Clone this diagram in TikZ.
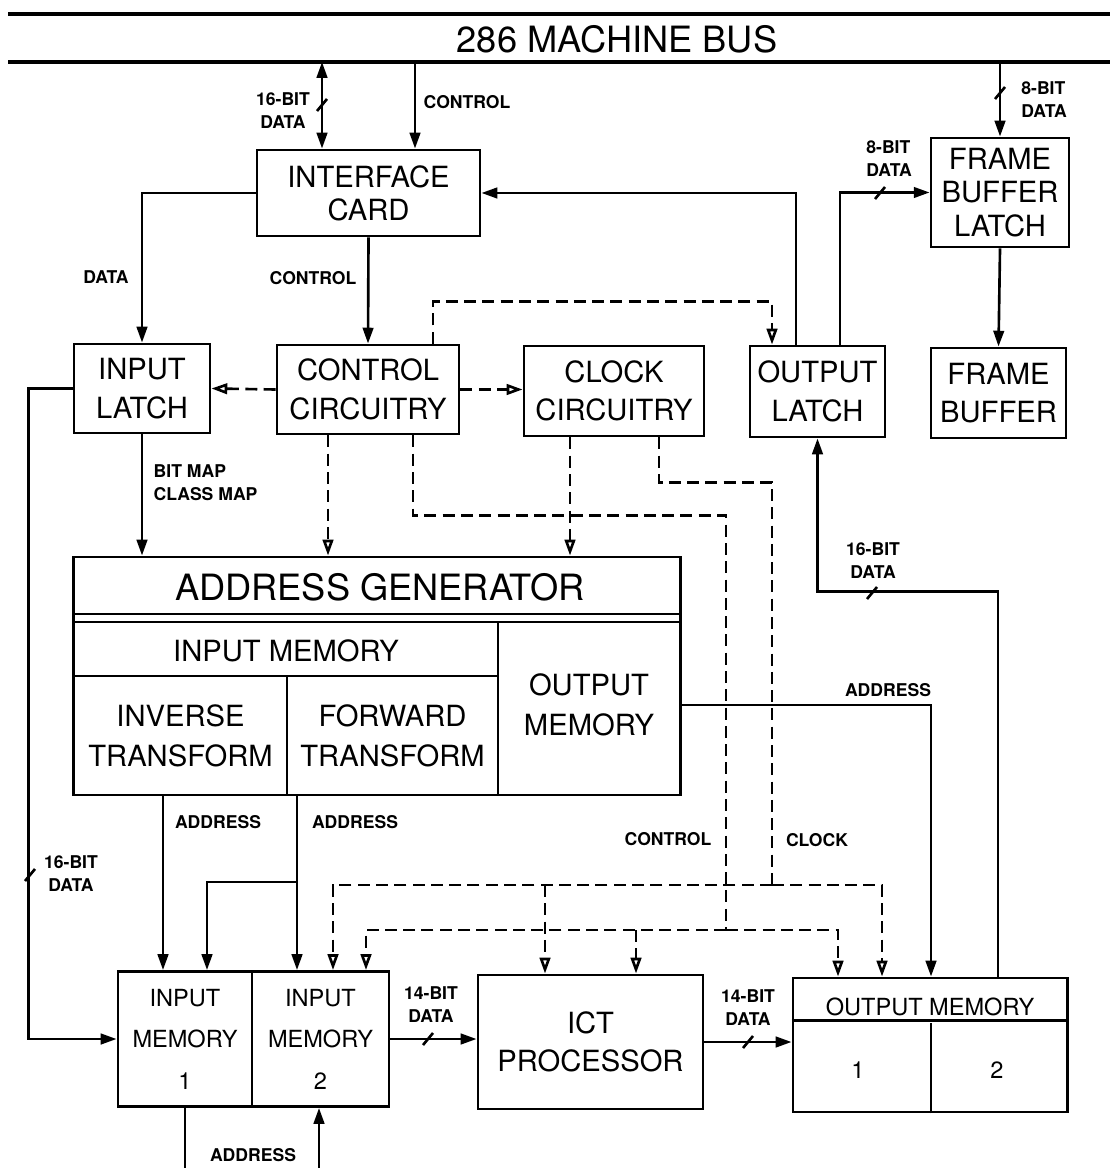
\documentclass[tikz,border=0pt]{standalone}
\usepackage{fontspec}
\setmainfont{TeX Gyre Heros}
\usetikzlibrary{arrows.meta,positioning,calc}
\newcommand{\fbig}{\fontsize{8.3}{11}\selectfont}
\newcommand{\fhuge}{\fontsize{10.3}{12}\selectfont}
\newcommand{\fmem}{\fontsize{6.7}{11.8}\selectfont}
\newcommand{\flab}{\fontsize{5}{6.5}\selectfont\bfseries}
\newcommand{\busmark}[1]{\draw[wire] ($(#1)+(-5,6)$) -- ($(#1)+(5,-6)$);}
\tikzset{
  wire/.style={line width=0.75pt},
  dwire/.style={wire, dash pattern=on 3.4pt off 1.8pt},
  sig/.style={wire, -{Triangle[length=4.5pt,width=3pt]}},
  sigb/.style={wire, {Triangle[length=4.5pt,width=3pt]}-{Triangle[length=4.5pt,width=3pt]}},
  ctl/.style={dwire, -{Triangle[open,length=4.5pt,width=3pt]}},
  blk/.style={draw, line width=0.8pt, inner sep=0pt, align=center, font=\fbig},
  lab/.style={inner sep=0pt, align=center, font=\flab},
}
\begin{document}
\begin{tikzpicture}[x=0.01cm,y=-0.01cm]
\useasboundingbox (0,0) rectangle (1110,1168);

% machine bus
\coordinate (bt0) at (8,14); \coordinate (bt1) at (1110,14);
\coordinate (bb0) at (8,62); \coordinate (bb1) at (1110,62);
\draw[line width=1pt] (bt0) -- (bt1);
\draw[line width=1pt] (bb0) -- (bb1);
\node[font=\fhuge] (bus) at (617,39) {286 MACHINE BUS};

% blocks
\node[blk, minimum width=2.23cm, minimum height=0.86cm, font=\fontsize{8.3}{9.4}\selectfont] (ic) at (368.5,193) {INTERFACE\\CARD};
\node[blk, minimum width=1.36cm, minimum height=0.89cm] (il) at (142,388.5) {INPUT\\LATCH};
\node[blk, minimum width=1.82cm, minimum height=0.89cm] (cc) at (368,389.5) {CONTROL\\CIRCUITRY};
\node[blk, minimum width=1.80cm, minimum height=0.90cm] (ck) at (614,391) {CLOCK\\CIRCUITRY};
\node[blk, minimum width=1.35cm, minimum height=0.91cm] (ol) at (817.5,391.5) {OUTPUT\\LATCH};
\node[blk, minimum width=1.38cm, minimum height=1.09cm, font=\fontsize{8.3}{9.5}\selectfont] (fbl) at (1000,192.5) {FRAME\\BUFFER\\LATCH};
\node[blk, minimum width=1.35cm, minimum height=0.90cm] (fb) at (998.5,393) {FRAME\\BUFFER};

% address generator
\node[blk, minimum width=6.06cm, minimum height=2.38cm] (ag) at (377,676) {};
\draw[line width=0.8pt] (74,614) -- (680,614) (74,622) -- (680,622)
  (74,676) -- (498,676) (498,622) -- (498,795) (287,676) -- (287,795);
\node[font=\fhuge] (agt) at (380,587) {ADDRESS GENERATOR};
\node[font=\fbig] (agim) at (286,651) {INPUT MEMORY};
\node[blk, draw=none, minimum width=2.13cm, minimum height=1.19cm, font=\fontsize{8.3}{11.4}\selectfont] (agiv) at (180.5,735.5) {INVERSE\\TRANSFORM};
\node[blk, draw=none, minimum width=2.11cm, minimum height=1.19cm, font=\fontsize{8.3}{11.4}\selectfont] (agfw) at (392.5,735.5) {FORWARD\\TRANSFORM};
\node[blk, draw=none, minimum width=1.82cm, minimum height=1.66cm, font=\fontsize{8.3}{11.4}\selectfont] (agom) at (589,705) {OUTPUT\\MEMORY};

% memories and processor
\node[blk, font=\fmem, minimum width=1.34cm, minimum height=1.35cm] (im1) at (185,1039) {INPUT\\MEMORY\\1};
\node[blk, font=\fmem, minimum width=1.37cm, minimum height=1.35cm] (im2) at (320.5,1039) {INPUT\\MEMORY\\2};
\node[blk, minimum width=2.25cm, minimum height=1.34cm] (ict) at (590.5,1042) {ICT\\PROCESSOR};
\node[blk, minimum width=2.74cm, minimum height=1.34cm] (om) at (930,1045) {};
\draw[line width=0.8pt] ($(om.north west)+(0,44)$) -- ($(om.north east)+(0,44)$)
  ($(om.south)+(1,0)$) -- ++(0,-90);
\node[font=\fmem] (omt) at (930,1007) {OUTPUT MEMORY};
\node[font=\fmem] (om1) at (858,1070) {1};
\node[font=\fmem] (om2) at (997,1070) {2};

% bus connections
\coordinate (icd) at ($(ic.north)+(-46.5,0)$);
\coordinate (icc) at ($(ic.north)+(46.5,0)$);
\draw[sigb] (icd |- bb0) -- (icd);
\draw[sig] (icc |- bb0) -- (icc);
\draw[sig] (fbl.north |- bb0) -- (fbl.north);
\busmark{322,105} \busmark{1000,93}
\node[lab] (l1) at (283,111) {16-BIT\\DATA};
\node[lab] (l2) at (467,102) {CONTROL};
\node[lab, align=left] (l3) at (1044,100) {8-BIT\\DATA};

% interface card and latches
\draw[sig] (ic.west) -| (il.north);
\draw[sig] (ic.south) -- (cc.north);
\node[lab] (l4) at (106,277) {DATA};
\node[lab] (l5) at (313,278) {CONTROL};
\draw[sig] ($(ol.north)+(-21.5,0)$) |- (ic.east);
\draw[sig] ($(ol.north)+(22.5,0)$) |- (fbl.west);
\busmark{880,193}
\node[lab, align=left] (l6) at (889,159) {8-BIT\\DATA};
\draw[sig] (fbl.south) -- (fb.north);

% control circuitry
\draw[ctl] (cc.west) -- (il.east);
\draw[ctl] (cc.east) -- (cc.east -| ck.west);
\coordinate (olc) at ($(ol.north)+(-45.5,0)$);
\draw[ctl] ($(cc.north)+(65,0)$) -- ++(0,-42) -| (olc);
\coordinate (cca) at ($(cc.south)+(-40,0)$);
\draw[ctl] (cca) -- (cca |- ag.north);
\coordinate (cka) at ($(ck.south)+(-44,0)$);
\draw[ctl] (cka) -- (cka |- ag.north);
\draw[sig] (il.south) -- (il.south |- ag.north);
\node[lab, anchor=west, align=left] (l7) at (153,483) {BIT MAP\\CLASS MAP};

% control and clock lines
\coordinate (ctlj) at (726,930);
\coordinate (clkj) at (772,885);
\draw[dwire] ($(cc.south)+(45,0)$) -- ++(0,80) -| (ctlj);
\draw[dwire] ($(ck.south)+(45,0)$) -- ++(0,45) -| (clkj);
\coordinate (m2k) at ($(im2.north)+(12.5,0)$);
\coordinate (m2c) at ($(im2.north)+(45.5,0)$);
\coordinate (ctk) at ($(ict.north)+(-45.5,0)$);
\coordinate (ctc) at ($(ict.north)+(45.5,0)$);
\coordinate (omc) at ($(om.north)+(-92,0)$);
\coordinate (omk) at ($(om.north)+(-48,0)$);
\draw[ctl] (clkj) -| (m2k);
\draw[ctl] (clkj) -| (omk);
\draw[ctl] (ctk |- clkj) -- (ctk);
\draw[ctl] (ctlj) -| (m2c);
\draw[ctl] (ctlj) -| (omc);
\draw[ctl] (ctc |- ctlj) -- (ctc);
\node[lab] (l8) at (668,839) {CONTROL};
\node[lab] (l9) at (817,840) {CLOCK};

% address lines
\coordinate (m1a) at ($(im1.north)+(-22,0)$);
\coordinate (m1b) at ($(im1.north)+(22,0)$);
\coordinate (m2a) at ($(im2.north)+(-23.5,0)$);
\draw[sig] (m1a |- ag.south) -- (m1a);
\draw[sig] (m2a |- ag.south) -- (m2a);
\draw[sig] ($(m2a)+(0,-88)$) -| (m1b);
\node[lab] (l10) at (218,822) {ADDRESS};
\node[lab] (l11) at (355,822) {ADDRESS};
\draw[sig] (agom.east) -| ($(om.north)+(1,0)$);
\node[lab] (l12) at (888,690) {ADDRESS};
\draw[sig] ($(om.north)+(68,0)$) -- ++(0,-385) -| (ol.south);
\busmark{872,593}
\node[lab] (l13) at (873,561) {16-BIT\\DATA};

% data paths
\draw[sig] (il.west) -- ++(-44,0) |- (im1.west);
\busmark{30,875}
\node[lab] (l14) at (71,874) {16-BIT\\DATA};
\draw[sig] (im2.east) -- (im2.east -| ict.west);
\busmark{428,1039}
\node[lab] (l15) at (431,1005) {14-BIT\\DATA};
\draw[sig] (ict.east) -- (ict.east -| om.west);
\busmark{748,1042}
\node[lab] (l16) at (748,1008) {14-BIT\\DATA};
\draw[wire] (im1.south) -- ++(0,63);
\draw[sig] ($(im2.south)+(-1.5,63)$) -- ($(im2.south)+(-1.5,0)$);
\node[lab] (l17) at (253,1155) {ADDRESS};
\end{tikzpicture}
\end{document}
